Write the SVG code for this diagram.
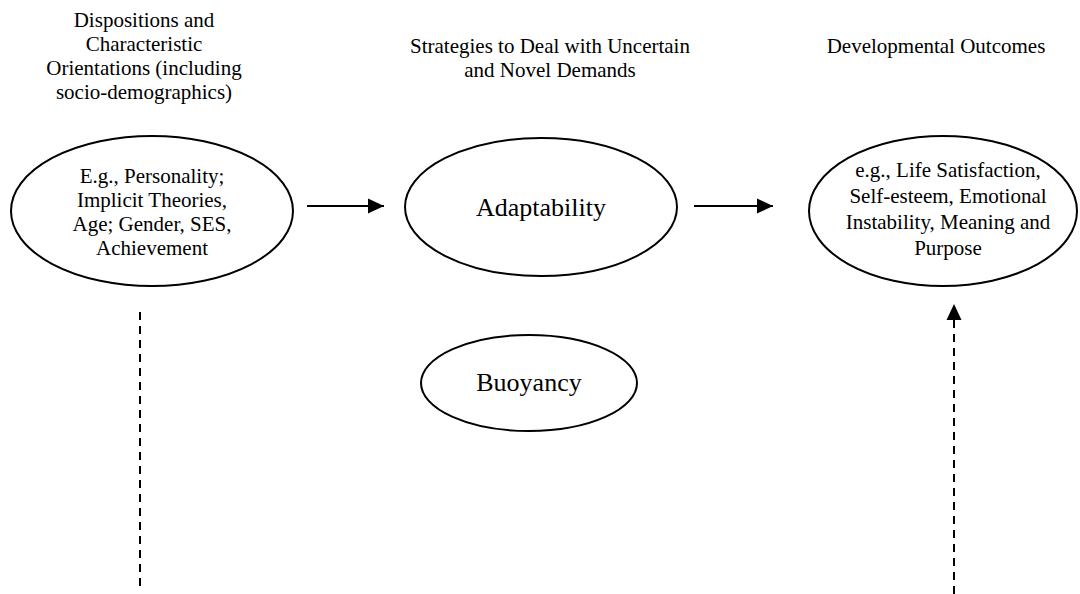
<svg xmlns="http://www.w3.org/2000/svg" width="1080" height="594" viewBox="0 0 1080 594">
  <style>
    text { font-family: "Liberation Serif", "Times New Roman", serif; fill: #000; text-anchor: middle; }
    .head { font-size: 21px; }
    .body { font-size: 21px; }
    .big { font-size: 26px; }
    .node ellipse { fill: #fff; stroke: #000; stroke-width: 2; }
    .conn line { stroke: #000; stroke-width: 2; }
    .dash { stroke-dasharray: 8 6; }
  </style>
  <defs>
    <marker id="arrow" markerUnits="userSpaceOnUse" markerWidth="16" markerHeight="16" refX="16" refY="8" orient="auto">
      <path d="M0,0.5 L16,8 L0,15.5 Z" fill="#000"/>
    </marker>
  </defs>

  <rect width="1080" height="594" fill="#fff"/>

  <!-- column headings -->
  <g id="headings" class="head">
    <text class="head" x="144" y="27">Dispositions and</text>
    <text class="head" x="144" y="51">Characteristic</text>
    <text class="head" x="144" y="75">Orientations (including</text>
    <text class="head" x="144" y="99">socio-demographics)</text>
    <text class="head" x="550" y="53">Strategies to Deal with Uncertain</text>
    <text class="head" x="550" y="77">and Novel Demands</text>
    <text class="head" x="936" y="53">Developmental Outcomes</text>
  </g>

  <!-- connectors -->
  <g id="connectors" class="conn">
    <line x1="307" y1="206" x2="384" y2="206" marker-end="url(#arrow)"/>
    <line x1="694" y1="206" x2="773" y2="206" marker-end="url(#arrow)"/>
    <line class="dash" x1="140" y1="312" x2="140" y2="586"/>
    <line class="dash" x1="954" y1="594" x2="954" y2="304" marker-end="url(#arrow)"/>
  </g>

  <g id="dispositions" class="node">
    <ellipse cx="152" cy="211" rx="141" ry="75"/>
    <text class="body" x="152" y="183">E.g., Personality;</text>
    <text class="body" x="152" y="207">Implicit Theories,</text>
    <text class="body" x="152" y="231">Age; Gender, SES,</text>
    <text class="body" x="152" y="255">Achievement</text>
  </g>

  <g id="adaptability" class="node">
    <ellipse cx="541" cy="207" rx="136" ry="69"/>
    <text class="big" x="541" y="216">Adaptability</text>
  </g>

  <g id="outcomes" class="node">
    <ellipse cx="943" cy="211" rx="134" ry="75"/>
    <text class="body" x="948" y="177">e.g., Life Satisfaction,</text>
    <text class="body" x="948" y="203">Self-esteem, Emotional</text>
    <text class="body" x="948" y="229">Instability, Meaning and</text>
    <text class="body" x="948" y="255">Purpose</text>
  </g>

  <g id="buoyancy" class="node">
    <ellipse cx="529" cy="383" rx="108" ry="48"/>
    <text class="big" x="529" y="391">Buoyancy</text>
  </g>
</svg>
